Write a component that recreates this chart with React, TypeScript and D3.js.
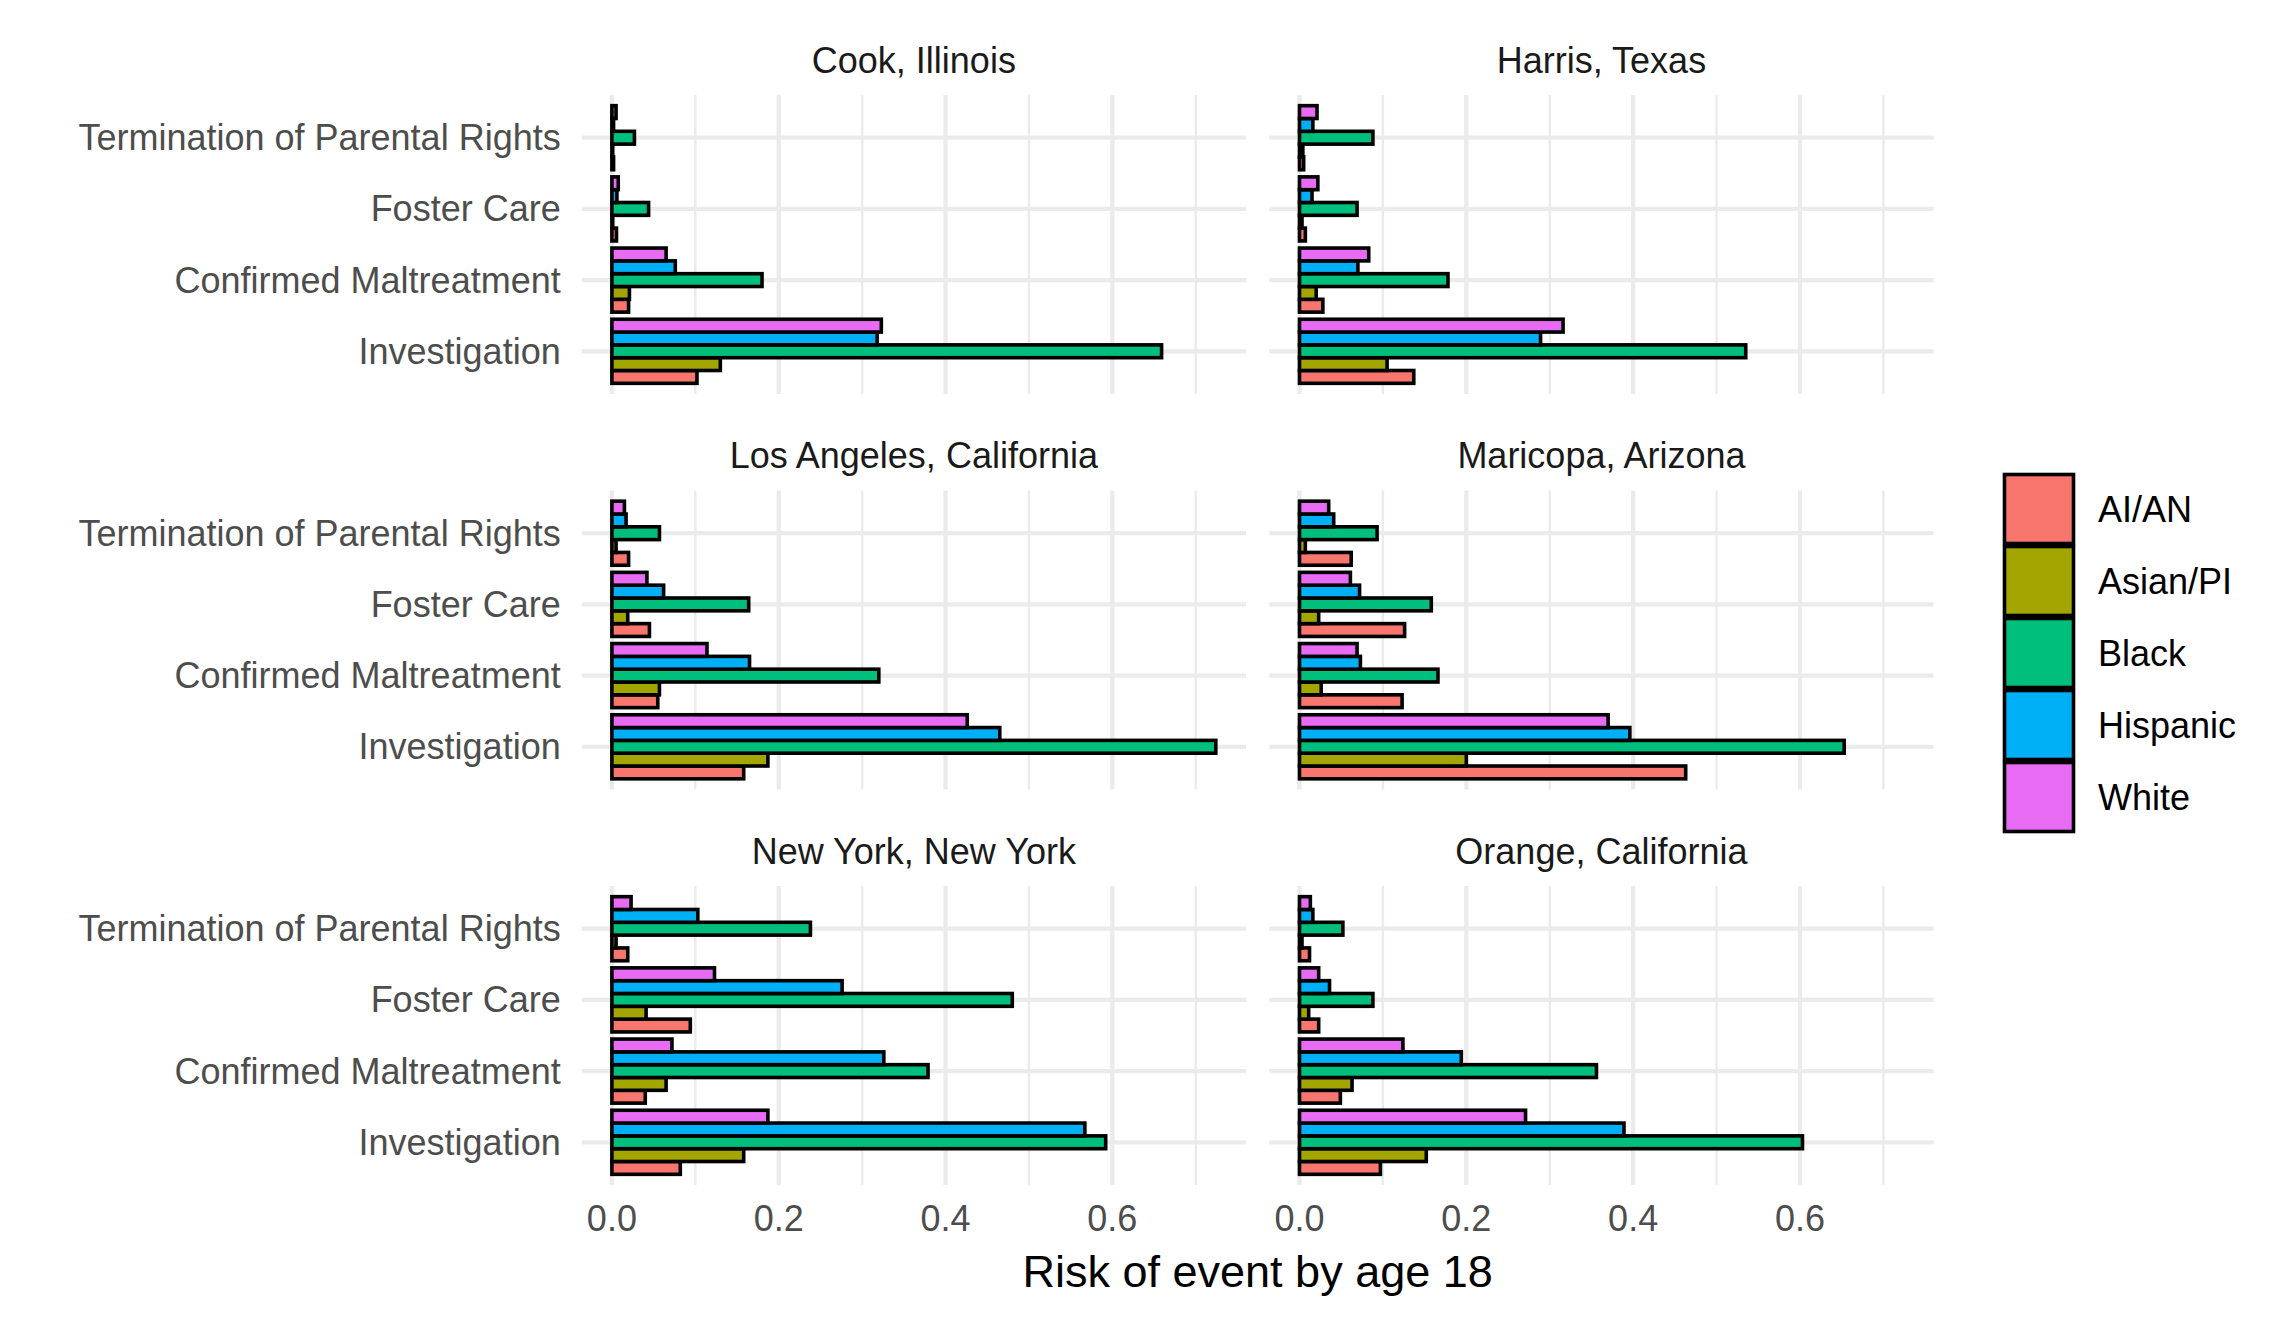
import React from 'react';
import * as d3 from 'd3';

// facet panels, in reading order
const counties = [
  'Cook, Illinois',
  'Harris, Texas',
  'Los Angeles, California',
  'Maricopa, Arizona',
  'New York, New York',
  'Orange, California',
];

// y categories, top to bottom
const events = ['Termination of Parental Rights', 'Foster Care', 'Confirmed Maltreatment', 'Investigation'];

const races = ['AI/AN', 'Asian/PI', 'Black', 'Hispanic', 'White'];
const raceColors = ['#F8766D', '#A3A500', '#00BF7D', '#00B0F6', '#E76BF3'];

// rows follow `races`, columns follow `events`
const cook = [
  [0.002, 0.0055, 0.02, 0.102],
  [0.001, 0.001, 0.021, 0.13],
  [0.027, 0.044, 0.18, 0.659],
  [0.002, 0.006, 0.076, 0.318],
  [0.005, 0.0076, 0.065, 0.323],
];
const harris = [
  [0.005, 0.007, 0.028, 0.137],
  [0.004, 0.003, 0.02, 0.105],
  [0.088, 0.069, 0.178, 0.535],
  [0.016, 0.015, 0.07, 0.289],
  [0.021, 0.022, 0.083, 0.316],
];
const losAngeles = [
  [0.02, 0.045, 0.055, 0.158],
  [0.005, 0.019, 0.057, 0.187],
  [0.057, 0.164, 0.32, 0.724],
  [0.017, 0.062, 0.165, 0.465],
  [0.015, 0.042, 0.114, 0.426],
];
const maricopa = [
  [0.062, 0.126, 0.123, 0.463],
  [0.007, 0.023, 0.026, 0.2],
  [0.093, 0.158, 0.166, 0.653],
  [0.041, 0.072, 0.073, 0.396],
  [0.035, 0.061, 0.069, 0.37],
];
const newYork = [
  [0.019, 0.094, 0.04, 0.082],
  [0.005, 0.041, 0.065, 0.158],
  [0.238, 0.48, 0.379, 0.592],
  [0.103, 0.276, 0.326, 0.567],
  [0.023, 0.123, 0.072, 0.187],
];
const orange = [
  [0.012, 0.023, 0.049, 0.097],
  [0.003, 0.011, 0.063, 0.152],
  [0.052, 0.088, 0.356, 0.603],
  [0.016, 0.036, 0.194, 0.389],
  [0.013, 0.023, 0.124, 0.271],
];
const panelData = [cook, harris, losAngeles, maricopa, newYork, orange];

const xTicks = [0, 0.2, 0.4, 0.6];
const xMinor = [0.1, 0.3, 0.5, 0.7];

const W = 2281;
const H = 1321;
const font = '"Liberation Sans", Arial, Helvetica, sans-serif';
const fs = 36;
const colLeft = [581.7, 1269.3];
const panelW = 664.3;
const rowTop = [95, 490.5, 886];
const panelH = 299;
const gridCol = '#EBEBEB';

const maxVal = d3.max(panelData.flat(2)) as number;
const xDomain: [number, number] = [-0.05 * maxVal, 1.05 * maxVal];

function Panel({ idx }: { idx: number }) {
  const col = idx % 2;
  const row = Math.floor(idx / 2);
  const left = colLeft[col];
  const top = rowTop[row];
  const data = panelData[idx];

  const x = d3.scaleLinear().domain(xDomain).range([left, left + panelW]);
  const y = d3.scaleBand().domain(events).range([top, top + panelH]).paddingInner(0).paddingOuter(0.1);
  const step = y.bandwidth();
  // dodge: first race at the bottom
  const inner = d3
    .scaleBand()
    .domain([...races].reverse())
    .range([step * 0.05, step * 0.95]);

  const bars: any[] = [];
  events.forEach((ev, ei) => {
    races.forEach((r, ri) => {
      bars.push({ ev, r, ri, v: data[ri][ei] });
    });
  });

  return (
    <g>
      <text
        x={left + panelW / 2}
        y={top - 35}
        textAnchor="middle"
        dominantBaseline="central"
        fontSize={fs}
        fill="#1A1A1A"
      >
        {counties[idx]}
      </text>
      {xMinor.map((t) => (
        <line key={'m' + t} x1={x(t)} x2={x(t)} y1={top} y2={top + panelH} stroke={gridCol} strokeWidth={2.4} />
      ))}
      {xTicks.map((t) => (
        <line key={'t' + t} x1={x(t)} x2={x(t)} y1={top} y2={top + panelH} stroke={gridCol} strokeWidth={4.3} />
      ))}
      {events.map((ev) => (
        <line
          key={ev}
          x1={left}
          x2={left + panelW}
          y1={(y(ev) as number) + step / 2}
          y2={(y(ev) as number) + step / 2}
          stroke={gridCol}
          strokeWidth={4.3}
        />
      ))}
      {bars.map((b) => (
        <rect
          key={b.ev + b.r}
          x={x(0)}
          y={(y(b.ev) as number) + (inner(b.r) as number)}
          width={Math.max(0, x(b.v) - x(0))}
          height={inner.bandwidth()}
          fill={raceColors[b.ri]}
          stroke="#000"
          strokeWidth={3.6}
        />
      ))}
      {col === 0 &&
        events.map((ev) => (
          <text
            key={'l' + ev}
            x={left - 21}
            y={(y(ev) as number) + step / 2}
            textAnchor="end"
            dominantBaseline="central"
            fontSize={fs}
            fill="#4D4D4D"
          >
            {ev}
          </text>
        ))}
      {row === 2 &&
        xTicks.map((t) => (
          <text
            key={'x' + t}
            x={x(t)}
            y={top + panelH + 20}
            textAnchor="middle"
            dominantBaseline="hanging"
            fontSize={fs}
            fill="#4D4D4D"
          >
            {d3.format('.1f')(t)}
          </text>
        ))}
    </g>
  );
}

export default function App() {
  const keyX = 2003;
  const keyTop = 473;
  const keySize = 72;
  return (
    <div style={{ position: 'fixed', left: 0, top: 0 }}>
      <svg width={W} height={H} style={{ display: 'block', fontFamily: font }}>
        <rect width={W} height={H} fill="#fff" />
        {counties.map((c, i) => (
          <Panel key={c} idx={i} />
        ))}
        <text
          x={(colLeft[0] + colLeft[1] + panelW) / 2}
          y={1271}
          textAnchor="middle"
          dominantBaseline="central"
          fontSize={45}
          fill="#000"
        >
          Risk of event by age 18
        </text>
        {races.map((r, i) => (
          <g key={r}>
            <rect
              x={keyX + 1.5}
              y={keyTop + i * keySize + 1.5}
              width={keySize - 3}
              height={keySize - 3}
              fill={raceColors[i]}
              stroke="#000"
              strokeWidth={3.6}
            />
            <text
              x={2098}
              y={keyTop + i * keySize + keySize / 2}
              dominantBaseline="central"
              fontSize={fs}
              fill="#000"
            >
              {r}
            </text>
          </g>
        ))}
      </svg>
    </div>
  );
}
